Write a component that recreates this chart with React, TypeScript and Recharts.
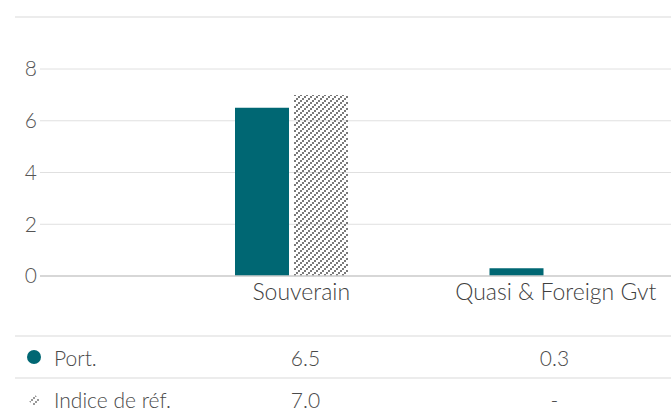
import React from "react";
import { BarChart, Bar, XAxis, YAxis, CartesianGrid } from "recharts";

const categories = ["Souverain", "Quasi & Foreign Gvt"];
const portValues = [6.5, 0.3];
const benchValues: (number | null)[] = [7.0, null];
const yTicks = [0, 2, 4, 6, 8];
const seriesNames = ["Port.", "Indice de réf."];

const TEAL = "#006773";
const FONT = "Lato, 'Noto Sans', sans-serif";

const data = categories.map((name, i) => ({
  name,
  port: portValues[i],
  bench: benchValues[i],
}));

const fmt = (v: number | null) => (v == null ? "-" : v.toFixed(1));

function XTick(props: any) {
  const { x, y, payload } = props;
  return (
    <text x={x + 10} y={y + 24} textAnchor="middle" fill="#3f3f3f" fontSize={23} fontFamily={FONT} fontWeight={300}>
      {payload.value}
    </text>
  );
}

function PatternDot() {
  return (
    <svg width={14} height={14} style={{ display: "block" }}>
      <defs>
        <pattern id="hatchSmall" patternUnits="userSpaceOnUse" width={6} height={6}>
          <rect x={0} y={4} width={2} height={2} fill="#999" />
          <rect x={2} y={2} width={2} height={2} fill="#999" />
          <rect x={4} y={0} width={2} height={2} fill="#999" />
        </pattern>
      </defs>
      <polygon points="7,1 13,7 7,13 1,7" fill="url(#hatchSmall)" />
    </svg>
  );
}

const rowLine = { position: "absolute" as const, left: 15, width: 700, height: 2, background: "#ececec" };

export default function App() {
  const rows = [portValues, benchValues];
  return (
    <div style={{ position: "absolute", left: 0, top: 0, width: 671, height: 411, overflow: "hidden", background: "#fff", fontFamily: FONT }}>
      <div style={{ ...rowLine, top: 16 }} />
      <BarChart
        width={700}
        height={320}
        data={data}
        margin={{ top: 69, right: 0, bottom: 14, left: 0 }}
        barGap={5}
      >
        <defs>
          <pattern id="hatch" patternUnits="userSpaceOnUse" width={6} height={6}>
            <rect x={0} y={4} width={2} height={2} fill="#7a7a7a" />
            <rect x={2} y={2} width={2} height={2} fill="#7a7a7a" />
            <rect x={4} y={0} width={2} height={2} fill="#7a7a7a" />
          </pattern>
        </defs>
        <CartesianGrid vertical={false} stroke="#e0e0e0" />
        <XAxis
          dataKey="name"
          height={30}
          padding={{ left: 124, right: 27 }}
          tickLine={false}
          tickSize={0}
          tickMargin={0}
          axisLine={{ stroke: "#cfcfcf", strokeWidth: 1.5 }}
          tick={<XTick />}
          interval={0}
        />
        <YAxis
          width={40}
          domain={[0, 8]}
          ticks={yTicks}
          tickLine={false}
          axisLine={false}
          tickSize={0}
          tickMargin={3}
          tick={{ fill: "#555", fontSize: 21, fontFamily: FONT, fontWeight: 300 }}
        />
        <Bar dataKey="port" name={seriesNames[0]} fill={TEAL} barSize={54} isAnimationActive={false} />
        <Bar dataKey="bench" name={seriesNames[1]} fill="url(#hatch)" barSize={54} isAnimationActive={false} />
      </BarChart>
      <div style={{ ...rowLine, top: 335 }} />
      <div style={{ ...rowLine, top: 377 }} />
      {rows.map((vals, r) => (
        <div key={r} style={{ position: "absolute", left: 0, top: 336 + r * 42.5, height: 42, width: 700, display: "flex", alignItems: "center", fontSize: 21, fontWeight: 300, color: "#4a4a4a" }}>
          <div style={{ width: 181, display: "flex", alignItems: "center" }}>
            <div style={{ width: 54, display: "flex", justifyContent: "center", paddingLeft: 14, boxSizing: "border-box" }}>
              {r === 0 ? (
                <div style={{ width: 14, height: 14, borderRadius: 7, background: TEAL }} />
              ) : (
                <PatternDot />
              )}
            </div>
            <span>{seriesNames[r]}</span>
          </div>
          {vals.map((v, i) => (
            <div key={i} style={{ width: 249, textAlign: "center" }}>
              {fmt(v)}
            </div>
          ))}
        </div>
      ))}
    </div>
  );
}
